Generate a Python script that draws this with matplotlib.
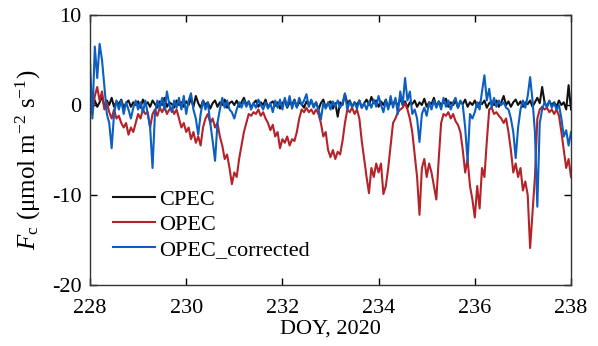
import numpy as np
import matplotlib
matplotlib.use("Agg")
import matplotlib.pyplot as plt

plt.rcParams['font.family'] = ['Liberation Serif', 'DejaVu Serif']
plt.rcParams['mathtext.fontset'] = 'custom'
plt.rcParams['mathtext.rm'] = 'Liberation Serif'
plt.rcParams['mathtext.it'] = 'Liberation Serif:italic'
plt.rcParams['axes.unicode_minus'] = False

# Time grid (DOY, 2020) shared by all series: 0.05-day sampling
doy_start, doy_end = 228.0, 238.0

cpec = [
    0.0, -0.3, 0.5, -0.2, 0.3, 1.0, -0.3, 0.5, 0.0, 0.8, -0.2, 0.4, 0.1, 0.6, -0.3, 0.2, 0.5, -0.2, 0.3, 0.0,
    0.4, -0.3, 0.6, 0.0, 0.3, -0.2, 0.5, 0.1, -0.3, 0.4, 0.0, 0.8, -0.2, 0.3, 0.1, -0.3, 0.5, 0.0, 0.3, -0.2,
    0.4, 0.0, 0.7, -0.2, 1.0, 0.2, -0.3, 0.5, 0.0, 0.3, -0.4, 0.2, 0.5, -0.2, 0.3, 0.0, 0.6, -0.3, 0.2, 0.4,
    0.0, 0.5, -0.2, 0.3, 0.8, 0.0, 0.4, -0.3, 0.2, 0.5, -0.2, 0.3, 0.0, 0.6, -0.3, 0.2, 0.4, -0.1, 0.3, -0.4,
    0.2, 0.5, -0.3, 0.3, 0.0, 0.6, -0.2, 0.3, 0.1, -0.3, 0.4, 0.0, 0.5, -0.2, 0.3, -0.5, 0.2, 0.6, -0.3, 0.2,
    0.4, -0.4, 0.2, -1.3, 0.3, 0.0, 1.2, 0.2, 0.5, -0.2, 0.3, 0.0, 0.5, -0.3, 0.2, 0.6, 0.0, 0.9, 0.2, 0.5,
    -0.2, 0.4, 0.0, 0.6, -0.3, 0.3, 0.1, 0.5, -0.2, 0.8, 0.0, 0.4, -0.3, 0.3, 0.1, 0.5, -0.2, 0.3, 0.0, 0.7,
    -0.2, 0.3, 0.1, 0.8, -0.2, 0.4, 0.0, 0.3, 0.7, -0.2, 0.3, 0.0, 0.5, -0.3, 0.4, 0.1, 0.6, -0.2, 0.3, 0.0,
    0.5, -0.2, 0.3, 0.1, 0.5, -0.3, 0.2, 0.4, 0.0, 0.5, -0.2, 0.3, 1.0, 0.0, 0.4, -0.2, 0.3, 0.6, 0.0, 0.4,
    -0.2, 0.3, 0.1, 0.5, -0.2, 0.3, 0.8, 0.2, 2.0, 0.3, -0.2, 0.4, 0.0, 0.3, -0.2, 0.5, 0.0, 0.3, -0.5, 2.2,
    -0.5,
]

opec = [
    0.5, -1.0, 1.0, 2.0, 0.5, 1.5, -0.5, 0.3, -0.8, -1.5, -0.5, -1.5, -1.2, -2.0, -2.5, -2.0, -3.3, -2.5, -3.0, -2.0,
    -1.0, -1.5, -0.5, -1.0, -0.8, -2.5, -1.0, -0.5, -1.2, -0.3, -0.8, -0.2, -1.0, -0.5, -0.3, -1.0, -0.5, -1.5, -2.5, -2.0,
    -3.0, -2.5, -3.8, -3.0, -4.2, -3.5, -4.5, -2.5, -1.5, -1.0, -2.0, -1.5, -2.5, -2.0, -3.5, -4.5, -6.0, -5.5, -7.0, -8.8,
    -7.5, -8.0, -6.0, -4.5, -3.0, -2.0, -1.0, -1.2, -0.8, -1.0, -0.5, -1.2, -0.8, -1.5, -2.0, -2.8, -2.2, -3.5, -3.0, -4.8,
    -3.8, -4.2, -3.5, -4.5, -3.8, -4.0, -3.0, -1.5, -0.5, -0.8, -0.3, -0.8, -0.5, -1.0, -0.5, -1.0, -2.0, -3.5, -3.0, -5.0,
    -5.8, -5.0, -6.0, -5.2, -5.5, -4.0, -2.0, -0.5, -0.8, -0.3, -1.0, -0.5, -1.5, -4.0, -6.0, -8.0, -9.8, -7.0, -8.0, -6.5,
    -7.5, -6.5, -9.9, -9.0, -7.0, -4.5, -2.0, -1.5, -0.8, -0.5, -0.3, 0.2, -0.5, -1.5, -3.0, -5.5, -8.0, -12.2, -7.0, -6.0,
    -8.0, -6.5, -7.5, -9.0, -10.5, -6.0, -2.0, -1.0, -1.2, -0.8, -1.5, -1.0, -1.8, -2.2, -3.0, -5.0, -7.5, -6.0, -9.0, -10.5,
    -12.5, -9.0, -11.5, -7.0, -8.0, -4.0, -0.5, -0.3, -1.0, -0.8, -1.2, -1.5, -2.0, -1.5, -3.0, -5.0, -7.5, -6.5, -8.0, -7.0,
    -9.5, -8.5, -10.0, -15.9, -12.0, -8.0, -1.5, -0.5, -0.2, -0.5, -0.3, -0.8, -0.5, -1.0, -0.5, -1.2, -3.0, -5.0, -7.0, -6.0,
    -8.0,
]

opec_corrected = [
    4.8, -1.5, 6.5, 3.0, 6.8, 5.0, 2.0, -1.0, -2.0, -4.8, -1.0, 0.5, -0.5, 0.5, -1.0, 0.3, -0.5, -1.5, -0.3, 0.5,
    -0.5, 0.3, -0.8, 0.5, -1.0, -2.5, -7.0, -1.0, 0.5, -0.3, 0.8, -0.5, 1.5, 0.0, -0.8, 0.5, -0.3, 0.8, -0.5, 1.0,
    -1.0, 0.5, 1.3, -0.5, -1.5, -3.3, -1.0, 0.5, -0.5, 0.3, -2.0, -4.0, -6.2, -2.0, -0.5, 0.8, -0.3, 0.5, -0.5, -0.8,
    -1.5, -0.5, 0.3, -0.3, 0.5, -0.2, 0.4, -0.5, 0.2, -0.3, 0.6, 0.0, -0.5, 0.3, -0.4, 0.2, -0.8, 0.5, -0.3, 0.6,
    -0.5, 0.8, -0.2, 1.0, -0.4, 0.5, -0.3, 0.8, 0.0, 0.5, 1.2, -0.2, 0.6, -0.3, 0.3, -0.5, -1.6, 0.2, -0.4, 0.3,
    -0.5, 0.4, -0.2, 0.5, -0.3, 0.2, 1.3, -0.5, 0.4, -0.2, 0.3, -0.4, 0.5, -0.3, 0.2, -0.5, 0.4, -0.3, 0.6, -0.2,
    1.0, 0.0, -0.8, 0.5, -0.5, 1.0, -0.3, 0.8, -1.0, 1.5, 0.0, 3.0, 0.5, 1.5, -1.0, -0.5, -1.5, -4.1, -1.0, -0.3,
    -1.2, 0.3, -0.5, 0.5, -0.3, 0.4, -0.5, 0.8, -0.2, 0.5, -0.5, 0.3, 0.8, -0.3, 0.5, 0.0, -2.5, -6.3, -1.0, -1.5,
    -0.8, 0.3, -0.5, 1.5, 3.3, 0.5, 1.8, -0.3, 0.8, -0.2, 0.5, 0.0, 0.3, -0.3, -0.5, -1.5, -3.0, -5.9, -2.5, -0.5,
    0.5, -0.3, 1.0, 3.1, 0.5, -3.0, -11.3, -2.0, -0.5, 0.3, -0.2, 0.5, -0.3, 0.2, -0.5, 0.0, -1.5, -3.5, -2.8, -4.5,
    -3.0,
]

labels = ["CPEC", "OPEC", "OPEC_corrected"]
colors = ["#111111", "#b42328", "#0a5fc0"]
series = [cpec, opec, opec_corrected]

fig = plt.figure(figsize=(5.98, 3.46), dpi=100)
ax = fig.add_axes([90/598, 61/346, 481/598, 270/346])

for vals, lab, col in zip(series, labels, colors):
    t = np.linspace(doy_start, doy_end, len(vals))
    ax.plot(t, vals, color=col, lw=1.5, label=lab)

ax.set_xlim(228, 238)
ax.set_ylim(-20, 10)
ax.set_xticks([228, 230, 232, 234, 236, 238])
ax.set_yticks([-20, -10, 0, 10])
ax.tick_params(direction='in', top=True, right=True, length=5, width=1, labelsize=16)
ax.tick_params(axis='x', pad=10)
ax.tick_params(axis='y', pad=6)
for s in ax.spines.values():
    s.set_linewidth(1.0)
    s.set_color('#333333')

ax.set_xlabel("DOY, 2020", fontsize=16, labelpad=1)
ax.set_ylabel(r"$F_\mathrm{c}$ ($\mathrm{\mu}$mol m$^{-2}$ s$^{-1}$)", fontsize=18)
ax.yaxis.set_label_coords(-0.098, 0.463)

leg = ax.legend(loc='upper left', bbox_to_anchor=(0.048, 0.355), frameon=False, fontsize=16,
                handlelength=1.9, handletextpad=0.18, labelspacing=0.2, borderaxespad=0.0, borderpad=0.0)

fig.savefig("out.png", dpi=100)
